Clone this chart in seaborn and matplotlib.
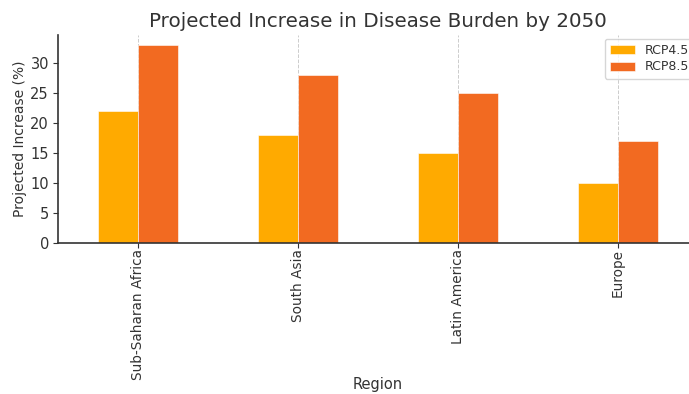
import matplotlib
matplotlib.use("Agg")
import matplotlib.pyplot as plt
import seaborn as sns
import pandas as pd

regions = ["Sub-Saharan Africa", "South Asia", "Latin America", "Europe"]
rcp45 = [22, 18, 15, 10]
rcp85 = [33, 28, 25, 17]
scenarios = ["RCP4.5", "RCP8.5"]
colors = ["#FFAA00", "#F26A21"]

df = pd.DataFrame({
    "Region": regions * 2,
    "Increase": rcp45 + rcp85,
    "Scenario": [scenarios[0]] * len(regions) + [scenarios[1]] * len(regions),
})

sns.set_style("white")
plt.rcParams["font.family"] = ["DejaVu Sans"]
text_color = "#333333"

fig = plt.figure(figsize=(6.89, 3.94), dpi=100)
ax = fig.add_axes([58 / 689, 1 - 243 / 394, 640 / 689, 208 / 394])

sns.barplot(data=df, x="Region", y="Increase", hue="Scenario",
            palette=colors, width=0.5, gap=0, saturation=1,
            edgecolor="white", linewidth=0.4, ax=ax)

ax.set_xlim(-0.5, 3.5)
ax.set_ylim(0, 34.65)
ax.set_yticks(range(0, 31, 5))

ax.grid(axis="x", linestyle="--", color="#cccccc", linewidth=0.7)
ax.grid(axis="y", visible=False)
ax.set_axisbelow(True)

for side in ["top", "right"]:
    ax.spines[side].set_visible(False)
for side in ["left", "bottom"]:
    ax.spines[side].set_color(text_color)
    ax.spines[side].set_linewidth(1.2)

ax.tick_params(axis="y", colors=text_color, labelsize=10.5, length=3.5,
               left=True, width=0.8, pad=3)
ax.tick_params(axis="x", colors=text_color, labelsize=9.8, length=3.5,
               bottom=True, width=0.8, pad=1)
plt.setp(ax.get_xticklabels(), rotation=90)

ax.set_title("Projected Increase in Disease Burden by 2050",
             fontsize=14.3, color=text_color, pad=6)
ax.set_xlabel("Region", fontsize=10.5, color=text_color)
ax.xaxis.set_label_coords(0.5, -0.645)
ax.set_ylabel("Projected Increase (%)", fontsize=10, color=text_color,
              labelpad=2)

leg = ax.legend(loc="upper right", fontsize=9, frameon=True,
                bbox_to_anchor=(1.0, 1.0), borderaxespad=0.3,
                labelspacing=0.3, handlelength=2.0, borderpad=0.4)
leg.set_title(None)
for t in leg.get_texts():
    t.set_color(text_color)

fig.savefig("out.png", dpi=100)
